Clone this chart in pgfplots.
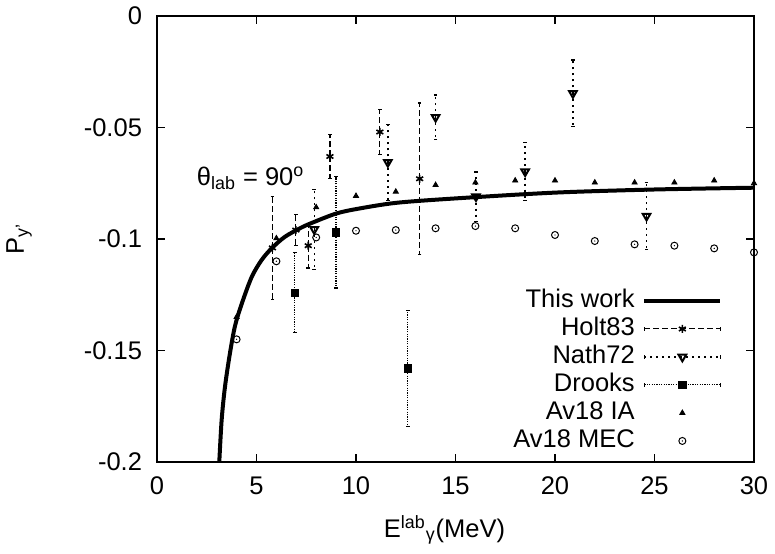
\documentclass[border=0pt]{standalone}
\usepackage{pgfplots}
\pgfplotsset{compat=1.18}
\usepackage{fontspec}
\setmainfont{Liberation Sans}
\usetikzlibrary{plotmarks}

% circle with a dot in the middle, as gnuplot draws it
\pgfdeclareplotmark{odot}{%
  \pgfpathcircle{\pgfpointorigin}{\pgfplotmarksize}\pgfusepathqstroke
  \pgfpathcircle{\pgfpointorigin}{0.35bp}\pgfusepathqfill}

\newcommand\lblfont{\fontsize{12.8}{15}\selectfont}

\begin{document}
\begin{tikzpicture}
\useasboundingbox (-78.5bp,-46bp) rectangle (309bp,231bp);
\begin{axis}[
  at={(0,0)}, anchor=south west,
  scale only axis, width=298.5bp, height=223bp,
  xmin=0, xmax=30, ymin=-0.2, ymax=0,
  xtick={0,5,10,15,20,25,30},
  xticklabels={0,5,10,15,20,25,30},
  ytick={-0.2,-0.15,-0.1,-0.05,0},
  yticklabels={-0.2,-0.15,-0.1,-0.05,0},
  tick align=inside, major tick length=4bp,
  axis line style={line width=0.75bp},
  every tick/.style={black, line width=0.6bp},
  tick label style={font=\lblfont},
  xticklabel style={yshift=-4bp},
  yticklabel style={xshift=-4bp},
  label style={font=\lblfont},
  xlabel={E\textsuperscript{lab}\textsubscript{γ}(MeV)},
  xlabel style={at={(axis description cs:0.4816,-0.1682)}, anchor=base},
  ylabel={P\textsubscript{y'}},
  ylabel style={at={(axis description cs:-0.2228,0.5)}, anchor=base},
  legend cell align=right,
  legend plot pos=right,
  legend style={draw=none, fill=none, inner sep=0pt, outer sep=0pt,
    at={(axis cs:28.39,-0.1215)}, anchor=north east,
    font=\lblfont, row sep=0pt, column sep=3bp,
    nodes={text height=9.5bp, text depth=2.5bp, inner sep=1bp}},
]

% This work
\addplot[black, line width=2bp, smooth, tension=0.5,
  legend image code/.code={\draw[line width=1.6bp] (0bp,0bp) -- (38bp,0bp);}]
  coordinates {
  (3.13,-0.2) (3.25,-0.181) (3.42,-0.166) (3.67,-0.151) (3.92,-0.139)
  (4.26,-0.129) (4.76,-0.117) (5.26,-0.1094) (5.76,-0.1042) (6.43,-0.099)
  (7.27,-0.0948) (7.94,-0.0922) (9.0,-0.0886) (10,-0.0866) (12,-0.0838)
  (15,-0.0818) (20,-0.0792) (25,-0.0778) (30,-0.0770)};
\addlegendentry{This work}

% Holt83
\addplot[black, only marks, mark=asterisk, mark size=2bp,
  mark options={solid, line width=0.8bp},
  error bars/.cd, y dir=both, y explicit,
  error bar style={line width=0.6bp, dash pattern=on 3bp off 1.5bp},
  error mark options={solid, line width=0.6bp, mark size=0.9bp, rotate=90},
  /pgfplots/legend image code/.code={
    \draw[line width=0.5bp, dash pattern=on 3bp off 1.5bp] (0bp,0bp) -- (38bp,0bp);
    \draw[line width=0.5bp] (0bp,-1bp) -- (0bp,1bp) (38bp,-1bp) -- (38bp,1bp);
    \draw plot coordinates {(19bp,0bp)};}]
  coordinates {
  (5.8,-0.104) +- (0,0.023)
  (6.98,-0.096) +- (0,0.007)
  (7.6,-0.103) +- (0,0.010)
  (8.69,-0.063) +- (0,0.010)
  (11.2,-0.052) +- (0,0.010)
  (13.2,-0.073) +- (0,0.034)};
\addlegendentry{Holt83}

% Nath72
\addplot[black, only marks, mark=triangle, mark size=2.2bp,
  mark options={solid, rotate=180, line width=1bp},
  error bars/.cd, y dir=both, y explicit,
  error bar style={line width=0.7bp, dash pattern=on 1bp off 2bp},
  error mark options={solid, line width=0.6bp, mark size=0.9bp, rotate=90},
  /pgfplots/legend image code/.code={
    \draw[line width=0.6bp, dash pattern=on 1bp off 2bp] (0bp,0bp) -- (38bp,0bp);
    \draw[line width=0.5bp] (0bp,-1bp) -- (0bp,1bp) (38bp,-1bp) -- (38bp,1bp);
    \draw plot coordinates {(19bp,0bp)};}]
  coordinates {
  (7.9,-0.0957) +- (0,0.018)
  (11.6,-0.0656) +- (0,0.017)
  (14.0,-0.0454) +- (0,0.010)
  (16.03,-0.081) +- (0,0.011)
  (18.5,-0.0698) +- (0,0.013)
  (20.9,-0.0347) +- (0,0.015)
  (24.6,-0.0897) +- (0,0.015)};
\addlegendentry{Nath72}

% Drooks
\addplot[black, only marks, mark=square*, mark size=1.8bp,
  mark options={solid},
  error bars/.cd, y dir=both, y explicit,
  error bar style={line width=0.6bp, dash pattern=on 0.6bp off 0.6bp},
  error mark options={solid, line width=0.6bp, mark size=0.9bp, rotate=90},
  /pgfplots/legend image code/.code={
    \draw[line width=0.5bp, dash pattern=on 0.6bp off 0.6bp] (0bp,0bp) -- (38bp,0bp);
    \draw[line width=0.5bp] (0bp,-1bp) -- (0bp,1bp) (38bp,-1bp) -- (38bp,1bp);
    \draw plot coordinates {(19bp,0bp)};}]
  coordinates {
  (6.92,-0.124) +- (0,0.018)
  (9.0,-0.097) +- (0,0.025)
  (12.6,-0.158) +- (0,0.026)};
\addlegendentry{Drooks}

% Av18 IA
\addplot[black, only marks, mark=triangle*, mark size=1.5bp,
  legend image code/.code={\draw plot coordinates {(19bp,0bp)};}]
  coordinates {
  (4,-0.135) (6,-0.0997) (8,-0.0858) (10,-0.0807) (12,-0.0788)
  (14,-0.0758) (16,-0.0747) (18,-0.0738) (20,-0.0738) (22,-0.0747)
  (24,-0.0747) (26,-0.0747) (28,-0.0738) (30,-0.075)};
\addlegendentry{Av18 IA}

% Av18 MEC
\addplot[black, only marks, mark=odot, mark size=1.75bp,
  mark options={line width=0.5bp},
  legend image code/.code={\draw plot coordinates {(19bp,0bp)};}]
  coordinates {
  (4,-0.145) (6,-0.110) (8,-0.0993) (10,-0.0963) (12,-0.096)
  (14,-0.0952) (16,-0.0942) (18,-0.0952) (20,-0.0982) (22,-0.1009)
  (24,-0.1024) (26,-0.103) (28,-0.1042) (30,-0.106)};
\addlegendentry{Av18 MEC}

\node[anchor=base west, inner sep=0pt, font=\lblfont]
  at (axis cs:1.99,-0.0758) {θ\textsubscript{lab} = 90\textsuperscript{o}};
\end{axis}
\end{tikzpicture}
\end{document}
